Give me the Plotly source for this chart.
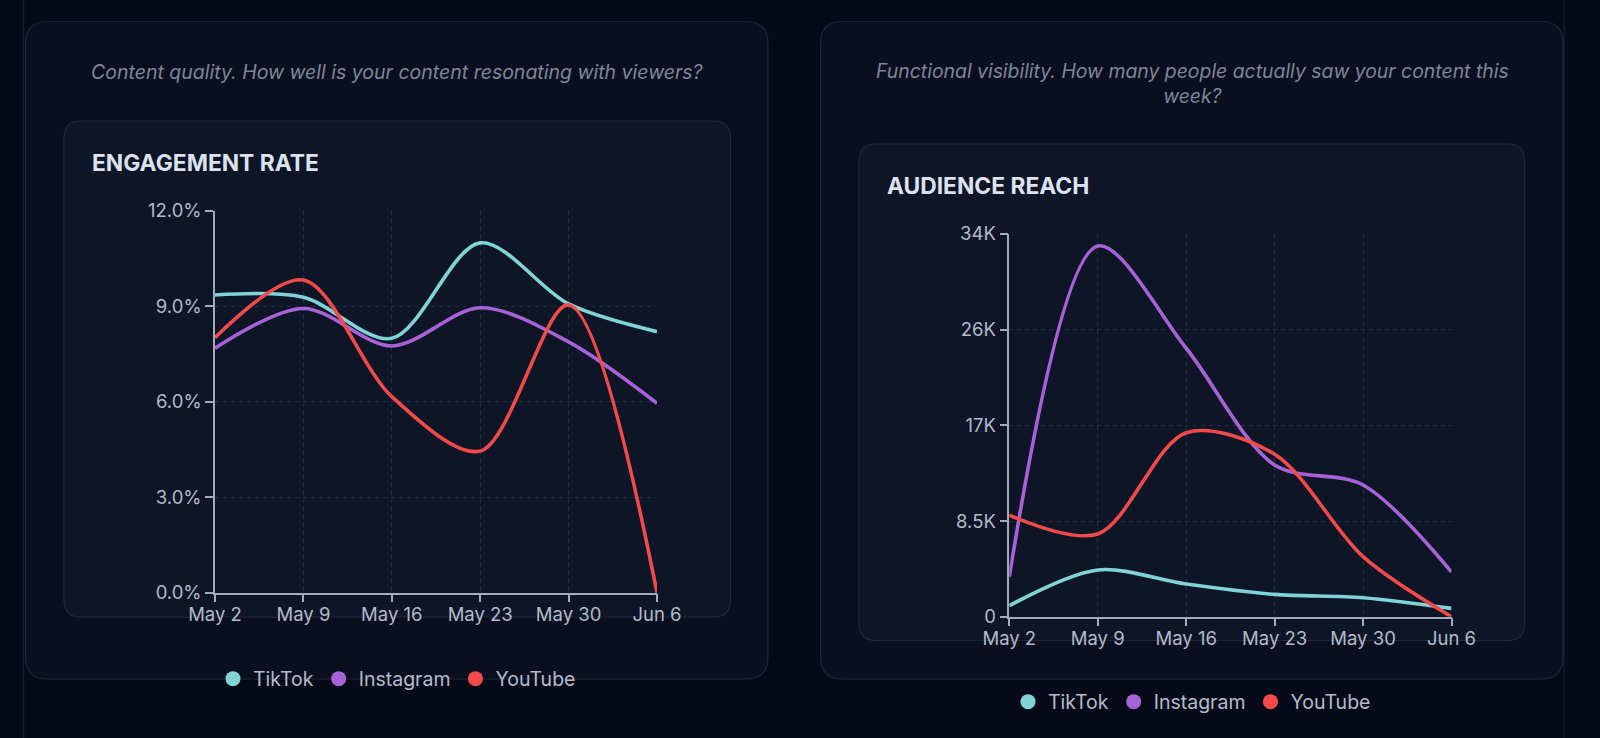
import plotly.graph_objects as go

W, H = 1600, 738

# ---------------- data ----------------
weeks = ["May 2", "May 9", "May 16", "May 23", "May 30", "Jun 6"]
platforms = ["TikTok", "Instagram", "YouTube"]
colors = {"TikTok": "#80d4d6", "Instagram": "#a662d6", "YouTube": "#f24a4a"}

engagement_tiktok = [9.35, 9.28, 7.99, 10.99, 9.07, 8.20]
engagement_instagram = [7.68, 8.93, 7.75, 8.95, 7.88, 5.95]
engagement_youtube = [8.01, 9.82, 6.16, 4.45, 9.04, 0.0]

reach_tiktok = [980, 4150, 2900, 1980, 1690, 740]
reach_instagram = [3550, 32940, 23850, 13480, 11700, 3970]
reach_youtube = [9030, 7350, 16350, 14430, 5330, 0]

eng_ticks = [0, 3, 6, 9, 12]
eng_ticktext = ["0.0%", "3.0%", "6.0%", "9.0%", "12.0%"]
reach_ticks = [0, 8500, 17000, 25500, 34000]
reach_ticktext = ["0", "8.5K", "17K", "26K", "34K"]

engagement = {"TikTok": engagement_tiktok, "Instagram": engagement_instagram, "YouTube": engagement_youtube}
reach = {"TikTok": reach_tiktok, "Instagram": reach_instagram, "YouTube": reach_youtube}

# ---------------- helpers ----------------
def fx(x):
    return x / W


def fy(y):
    return 1 - y / H


def rrect(x0, y0, x1, y1, r):
    pts = [
        ("M", [(x0 + r, y0)]),
        ("L", [(x1 - r, y0)]),
        ("Q", [(x1, y0), (x1, y0 + r)]),
        ("L", [(x1, y1 - r)]),
        ("Q", [(x1, y1), (x1 - r, y1)]),
        ("L", [(x0 + r, y1)]),
        ("Q", [(x0, y1), (x0, y1 - r)]),
        ("L", [(x0, y0 + r)]),
        ("Q", [(x0, y0), (x0 + r, y0)]),
    ]
    s = ""
    for cmd, ps in pts:
        s += cmd + " " + " ".join(f"{fx(a):.6f},{fy(b):.6f}" for a, b in ps) + " "
    return s + "Z"


FONT = "Inter, 'Noto Sans', sans-serif"
TICK_COLOR = "#b3bbca"
GRID = "#222c3f"
AXIS_LINE = "#a3acbb"

fig = go.Figure()

# line traces
for p in platforms:
    fig.add_trace(go.Scatter(
        x=weeks, y=engagement[p], mode="lines", name=p,
        line=dict(color=colors[p], width=3.6, shape="spline", smoothing=0.9),
        xaxis="x", yaxis="y", showlegend=False, hoverinfo="skip"))
for p in platforms:
    fig.add_trace(go.Scatter(
        x=weeks, y=reach[p], mode="lines", name=p,
        line=dict(color=colors[p], width=3.6, shape="spline", smoothing=0.9),
        xaxis="x2", yaxis="y2", showlegend=False, hoverinfo="skip"))

# legend entries (circle markers)
for p in platforms:
    fig.add_trace(go.Scatter(x=[None], y=[None], mode="markers", name=p,
                             marker=dict(color=colors[p], size=15),
                             xaxis="x", yaxis="y", legend="legend"))
for p in platforms:
    fig.add_trace(go.Scatter(x=[None], y=[None], mode="markers", name=p,
                             marker=dict(color=colors[p], size=15),
                             xaxis="x2", yaxis="y2", legend="legend2"))

shapes = []
# container edge lines
shapes.append(dict(type="line", xref="paper", yref="paper", x0=fx(23.5), x1=fx(23.5), y0=0, y1=1,
                   line=dict(color="#141b2b", width=1.5), layer="below"))
shapes.append(dict(type="line", xref="paper", yref="paper", x0=fx(1564), x1=fx(1564), y0=0, y1=1,
                   line=dict(color="#141b2b", width=1.5), layer="below"))
# cards
for (x0, y0, x1, y1, r, fill, ln) in [
    (25.5, 21.5, 768, 679, 22, "#0a0f1f", "#1c2536"),
    (64, 121, 730.5, 617, 17, "#0d1527", "#1f2839"),
    (820.5, 21.5, 1563, 679, 22, "#0a0f1f", "#1c2536"),
    (859, 144, 1524.5, 640.5, 17, "#0d1527", "#1f2839"),
]:
    shapes.append(dict(type="path", xref="paper", yref="paper", path=rrect(x0, y0, x1, y1, r),
                       fillcolor=fill, line=dict(color=ln, width=1.2), layer="below"))

annotations = [
    dict(text="Content quality. How well is your content resonating with viewers?",
         x=fx(397), y=fy(72.5), xref="paper", yref="paper", xanchor="center", yanchor="middle",
         showarrow=False, font=dict(family=FONT, size=19.5, color="#7d8799", style="italic")),
    dict(text="Functional visibility. How many people actually saw your content this<br>week?",
         x=fx(1192), y=fy(84), xref="paper", yref="paper", xanchor="center", yanchor="middle",
         showarrow=False, font=dict(family=FONT, size=19.4, color="#7d8799", style="italic")),
    dict(text="ENGAGEMENT RATE", x=fx(90), y=fy(162.5), xref="paper", yref="paper",
         xanchor="left", yanchor="middle", showarrow=False,
         font=dict(family=FONT, size=22.8, color="#dce2ee", weight=700)),
    dict(text="AUDIENCE REACH", x=fx(885), y=fy(185.5), xref="paper", yref="paper",
         xanchor="left", yanchor="middle", showarrow=False,
         font=dict(family=FONT, size=22.8, color="#dce2ee", weight=700)),
]

xaxis_common = dict(
    type="category", range=[0, 5], showgrid=True, gridcolor=GRID, griddash="4px,4px", gridwidth=1,
    showline=True, linecolor=AXIS_LINE, linewidth=1.5, ticks="outside", ticklen=8, tickwidth=1.5,
    tickcolor=AXIS_LINE, tickfont=dict(family=FONT, size=18.5, color=TICK_COLOR), zeroline=False,
    fixedrange=True, ticklabelstandoff=-4,
)
yaxis_common = dict(
    showgrid=True, gridcolor=GRID, griddash="4px,4px", gridwidth=1,
    showline=True, linecolor=AXIS_LINE, linewidth=1.5, ticks="outside", ticklen=8, tickwidth=1.5,
    tickcolor=AXIS_LINE, tickfont=dict(family=FONT, size=18.5, color=TICK_COLOR), zeroline=False,
    fixedrange=True,
)

legend_common = dict(orientation="h", xanchor="center", yanchor="middle", bgcolor="rgba(0,0,0,0)",
                     font=dict(family=FONT, size=19.5, color="#b4bccb"), itemwidth=30,
                     itemclick=False, itemdoubleclick=False)

fig.update_layout(
    width=W, height=H, margin=dict(l=0, r=0, t=0, b=0, autoexpand=False),
    paper_bgcolor="#060a18", plot_bgcolor="rgba(0,0,0,0)",
    font=dict(family=FONT),
    xaxis=dict(**xaxis_common, domain=[fx(215), fx(657)], anchor="y", automargin=False),
    yaxis=dict(**yaxis_common, domain=[fy(592.7), fy(210.7)], anchor="x", range=[0, 12],
               tickvals=eng_ticks, ticktext=eng_ticktext, automargin=False),
    xaxis2=dict(**xaxis_common, domain=[fx(1009.3), fx(1451.5)], anchor="y2", automargin=False),
    yaxis2=dict(**yaxis_common, domain=[fy(616.7), fy(234)], anchor="x2", range=[0, 34000],
                tickvals=reach_ticks, ticktext=reach_ticktext, automargin=False),
    legend=dict(**legend_common, x=fx(397), y=fy(679)),
    legend2=dict(**legend_common, x=fx(1192), y=fy(702)),
    shapes=shapes, annotations=annotations, showlegend=True,
)

fig.write_html(
    "out.html",
    config={"displayModeBar": False, "responsive": False},
    post_script="document.body.style.margin='0';document.body.style.padding='0';"
                "document.body.style.overflow='hidden';"
                "document.documentElement.style.overflow='hidden';",
)
